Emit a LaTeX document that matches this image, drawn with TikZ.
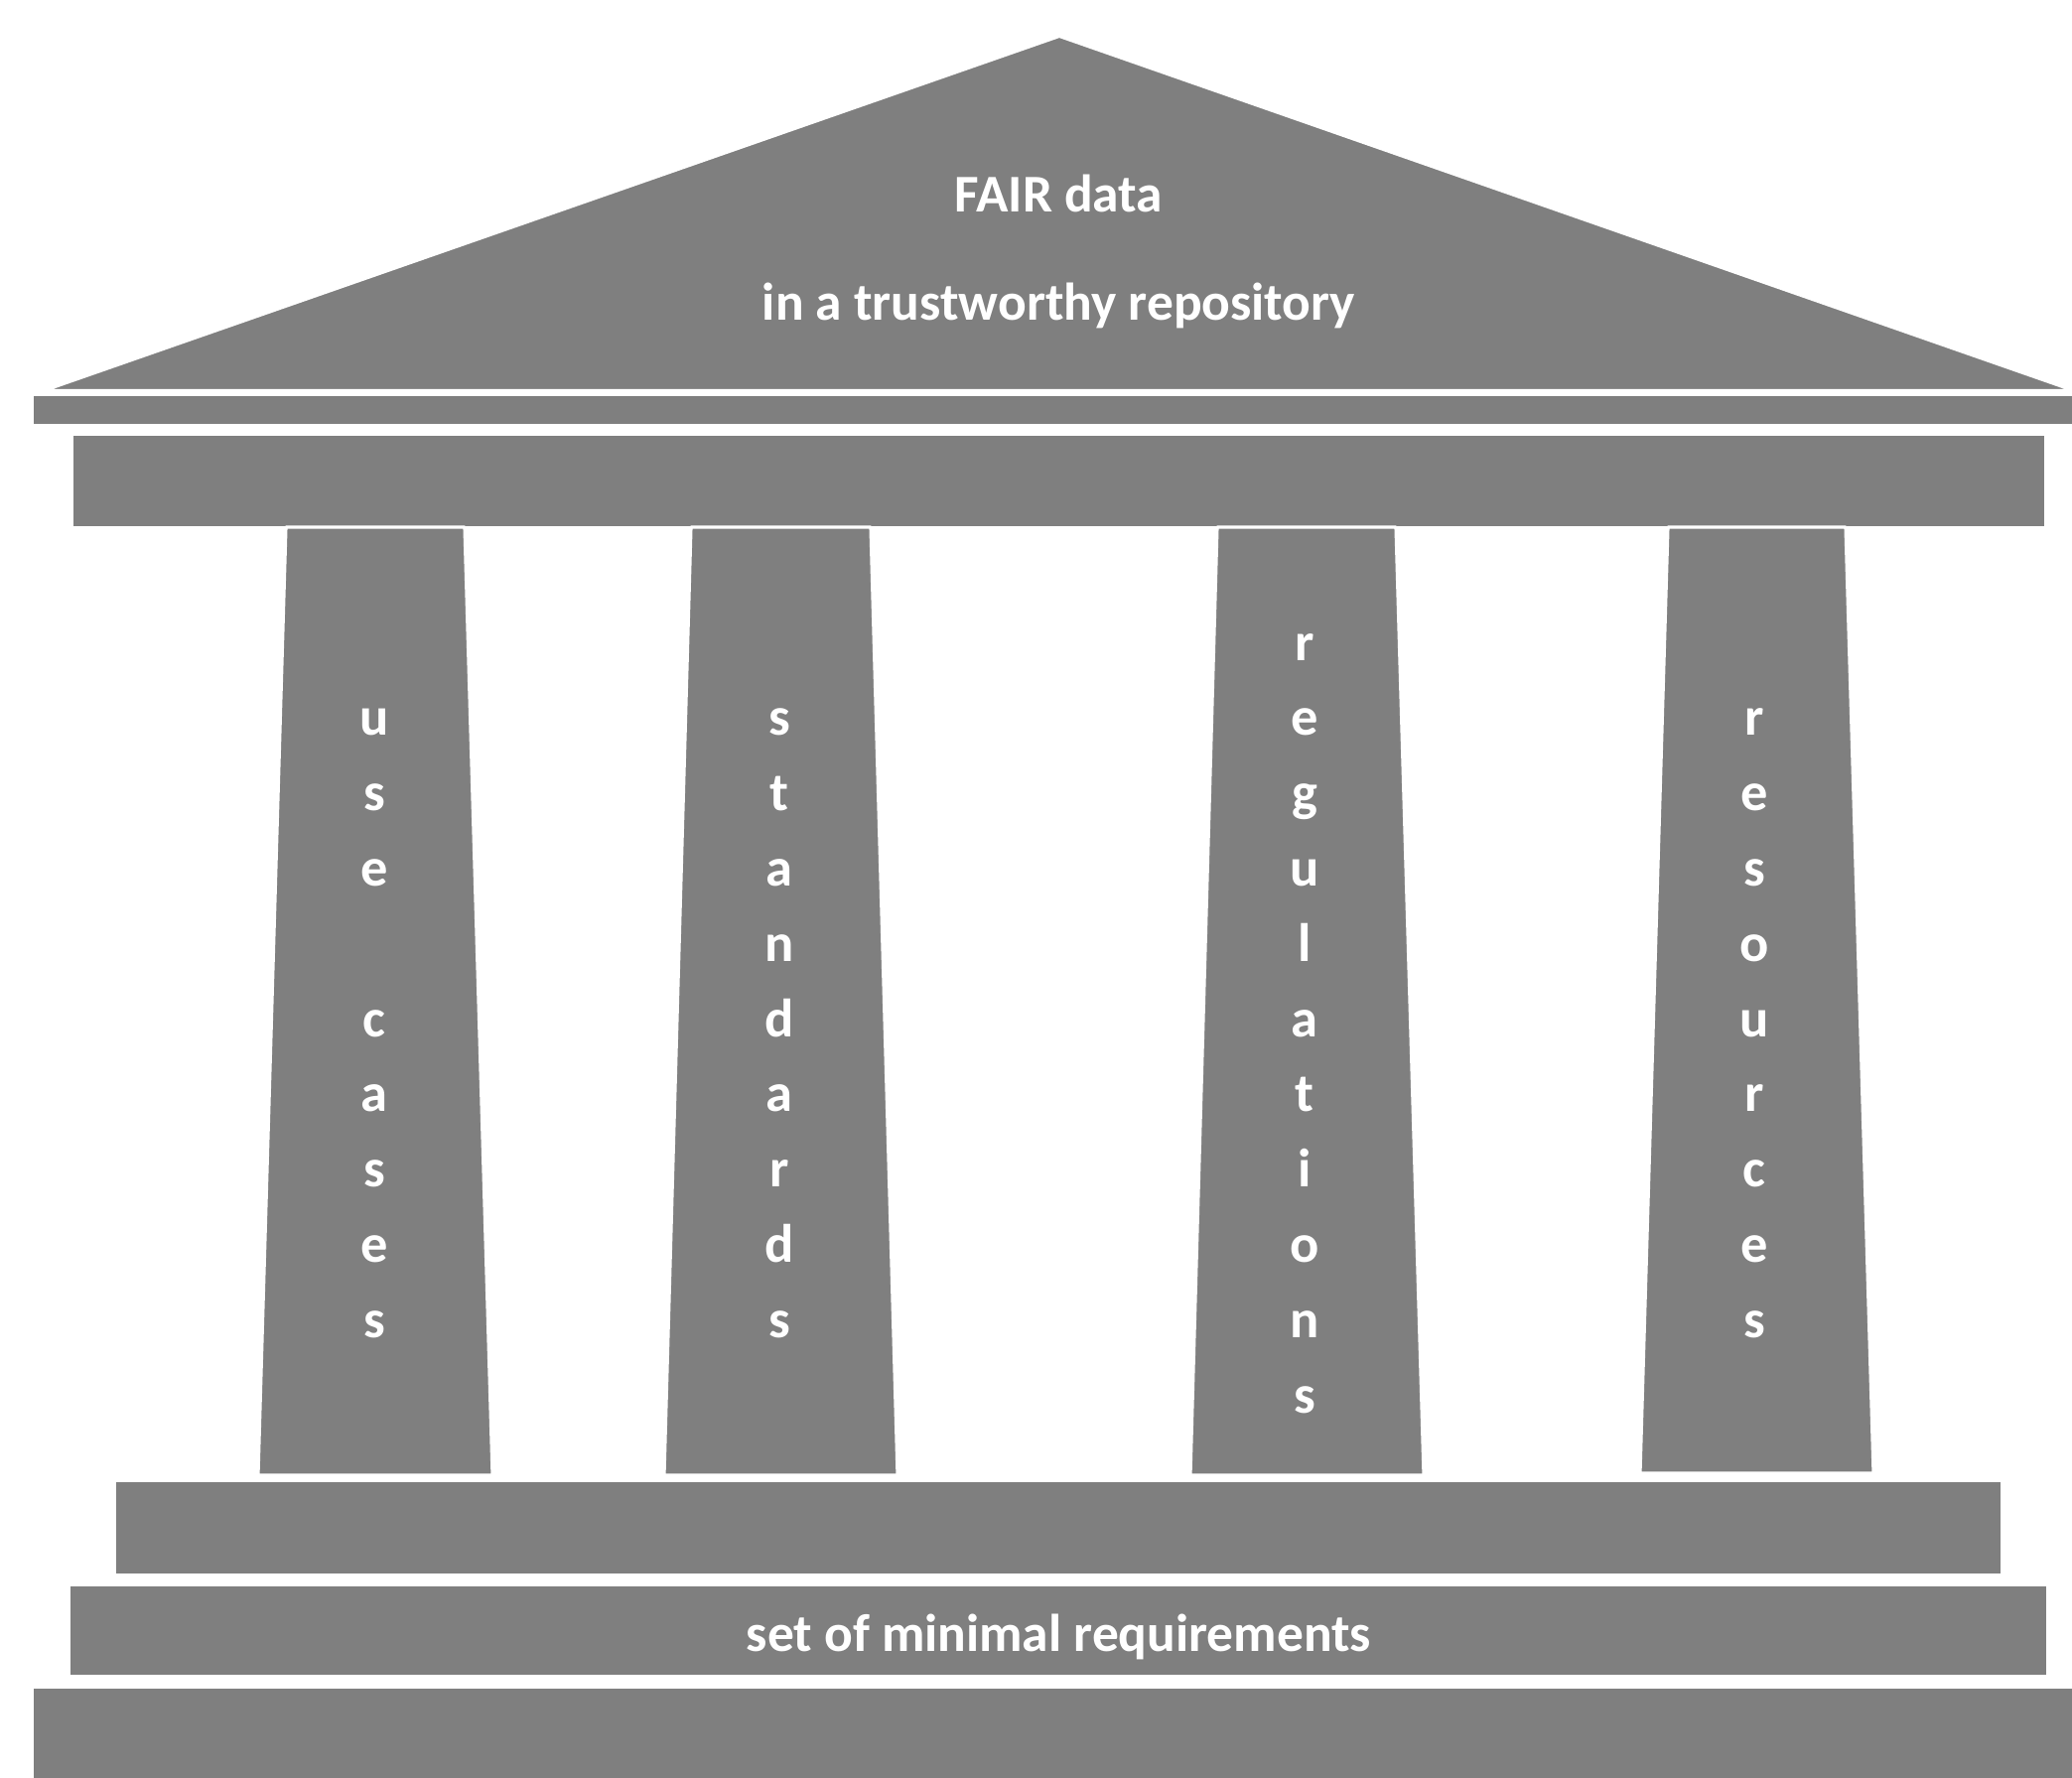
\documentclass[tikz,border=0pt]{standalone}
\usepackage{fontspec}
\setmainfont{Carlito}
\definecolor{temple}{RGB}{127,127,127}
\begin{document}
\begin{tikzpicture}[x=0.01cm,y=-0.01cm,
  part/.style={fill=temple,draw=white,line width=0.6pt},
  column/.style={fill=temple,draw=white,line width=0.9pt,line join=round},
  label/.style={text=white,font=\fontsize{15.2}{18}\selectfont\bfseries,inner sep=0pt,anchor=base},
  letter/.style={text=white,font=\fontsize{15.5}{18}\selectfont\bfseries,inner sep=0pt,anchor=base}]
\useasboundingbox (0,0) rectangle (2087,1791);
% roof
\draw[part] (47,393) -- (1067,37) -- (2086,393) -- cycle;
\draw[part] (33,398) rectangle (2090,428);
\draw[part] (73,438) rectangle (2060,531);
% steps
\draw[part] (116,1492) rectangle (2016,1586);
\draw[part] (70,1597) rectangle (2062,1688);
\draw[part] (33,1700) rectangle (2090,1795);
% columns
\draw[column] (288,531) -- (468,531) -- (496,1486) -- (260,1486) -- cycle;
\draw[column] (696,531) -- (877,531) -- (904,1486) -- (669,1486) -- cycle;
\draw[column] (1226,531) -- (1406,531) -- (1434,1486) -- (1199,1486) -- cycle;
\draw[column] (1680,531) -- (1859,531) -- (1887,1484) -- (1652,1484) -- cycle;
% texts
\node[label] (fair) at (1066.5,214) {FAIR data};
\node[label] (trust) at (1066.5,323) {in a trustworthy repository};
\node[label] (minreq) at (1066.5,1663) {set of minimal requirements};
\foreach \l/\k in {u/1,s/2,e/3,c/5,a/6,s/7,e/8,s/9}
  \node[letter] (pa\k) at (377,665+75.8*\k) {\l};
\foreach \l/\k in {s/1,t/2,a/3,n/4,d/5,a/6,r/7,d/8,s/9}
  \node[letter] (pb\k) at (785,665+75.8*\k) {\l};
\foreach \l/\k in {r/0,e/1,g/2,u/3,l/4,a/5,t/6,i/7,o/8,n/9,s/10}
  \node[letter] (pc\k) at (1314,665+75.8*\k) {\l};
\foreach \l/\k in {r/1,e/2,s/3,o/4,u/5,r/6,c/7,e/8,s/9}
  \node[letter] (pd\k) at (1767,665+75.8*\k) {\l};
\end{tikzpicture}
\end{document}
